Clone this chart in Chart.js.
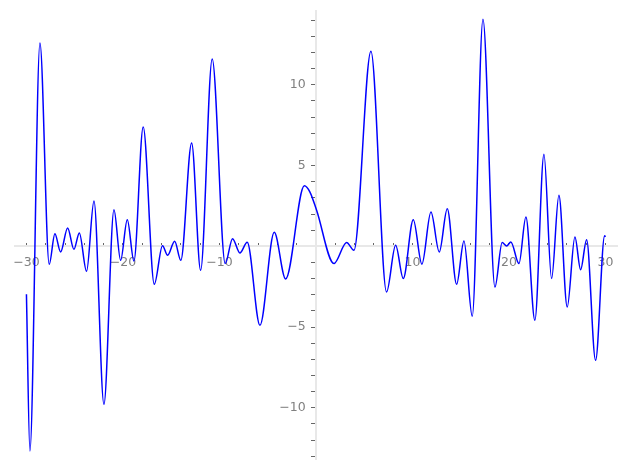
<!DOCTYPE html>
<html>
<head>
<meta charset="utf-8">
<script src="https://cdn.jsdelivr.net/npm/chart.js@4/dist/chart.umd.min.js"></script>
<style>
  html, body { margin: 0; padding: 0; background: #fff; }
  #wrap { width: 627px; height: 470px; }
</style>
</head>
<body>
<div id="wrap"><canvas id="myChart"></canvas></div>
<script>
// curve (turning points plus a couple on the long slope)
var xs = [-30, -29.64, -28.6, -27.64, -27.05, -26.46, -25.73, -25.08, -24.52, -23.77,
          -23.0, -21.97, -20.93, -20.24, -19.55, -18.86, -17.9, -16.75, -15.9, -15.37,
          -14.64, -14.0, -12.88, -11.95, -10.75, -9.40, -8.64, -7.88, -7.12, -5.80,
          -4.32, -3.14, -1.2, -0.62, 0.07, 1.87, 3.18, 3.94, 5.70, 7.32,
          8.26, 9.05, 10.09, 10.98, 11.92, 12.78, 13.61, 14.58, 15.34, 16.2,
          17.31, 18.55, 19.3, 19.76, 20.2, 21.04, 21.76, 22.69, 23.63, 24.42,
          25.18, 26.04, 26.84, 27.43, 28.05, 28.98, 29.92, 30];
var ys = [-2.97, -12.67, 12.59, -1.11, 0.78, -0.35, 1.13, -0.19, 0.83, -1.55,
          2.81, -9.78, 2.27, -0.87, 1.65, -0.91, 7.39, -2.35, 0.04, -0.56,
          0.31, -0.87, 6.4, -1.49, 11.6, -1.07, 0.47, -0.41, 0.25, -4.89,
          0.87, -2.02, 3.75, 3.36, 2.23, -1.07, 0.23, -0.25, 12.07, -2.83,
          0.06, -2.0, 1.65, -1.11, 2.12, -0.35, 2.33, -2.35, 0.33, -4.33,
          14.06, -2.52, 0.23, 0.02, 0.27, -1.07, 1.82, -4.58, 5.70, -2.0,
          3.16, -3.76, 0.58, -1.45, 0.41, -7.06, 0.66, 0.58];

var xLabels = [-30, -20, -10, 10, 20, 30];
var yLabels = [-10, -5, 5, 10];
var xMinorStep = 2;
var yMinorStep = 1;

function tick_values(lo, hi, step) {
    var out = [];
    for (var v = lo; v <= hi; v += step) {
        if (v != 0) out.push({value: v});
    }
    return out;
}

function fmt(v, majors, gap) {
    if (majors.indexOf(v) < 0) return '';
    return String(v).replace('-', '\u2212') + (gap || '');
}

var points = [];
for (let i = 0; i < xs.length; i++) {
    points.push({x: xs[i], y: ys[i]});
}

Chart.defaults.font.family = "'DejaVu Sans', sans-serif";
Chart.defaults.font.size = 12.5;

new Chart('myChart', {
    type: 'line',
    data: {
        datasets: [{
            data: points,
            borderColor: '#0000ff',
            borderWidth: 1.5,
            pointRadius: 0,
            fill: false,
            cubicInterpolationMode: 'monotone'
        }]
    },
    options: {
        responsive: true,
        maintainAspectRatio: false,
        animation: false,
        layout: { padding: { left: 13, right: 10, top: 6, bottom: 5 } },
        plugins: { legend: { display: false }, tooltip: { enabled: false } },
        scales: {
            x: {
                type: 'linear',
                min: -31.2,
                max: 31.2,
                position: { y: 0 },
                afterBuildTicks: function (s) { s.ticks = tick_values(-30, 30, xMinorStep); },
                border: { display: true, color: '#e8e8e8', width: 2 },
                grid: { drawOnChartArea: false, drawTicks: true, tickLength: -4, tickColor: '#666', tickWidth: 1 },
                ticks: {
                    color: '#808080',
                    padding: 13,
                    maxRotation: 0,
                    autoSkip: false,
                    callback: function (v) { return fmt(v, xLabels); }
                }
            },
            y: {
                type: 'linear',
                min: -13.2,
                max: 14.6,
                position: { x: 0 },
                afterBuildTicks: function (s) { s.ticks = tick_values(-13, 14, yMinorStep); },
                border: { display: true, color: '#e8e8e8', width: 2 },
                grid: { drawOnChartArea: false, drawTicks: true, tickLength: 4, tickColor: '#666', tickWidth: 1 },
                ticks: {
                    color: '#808080',
                    autoSkip: false,
                    callback: function (v) { return fmt(v, yLabels, ' \u2002'); }
                }
            }
        }
    }
});
</script>
</body>
</html>
